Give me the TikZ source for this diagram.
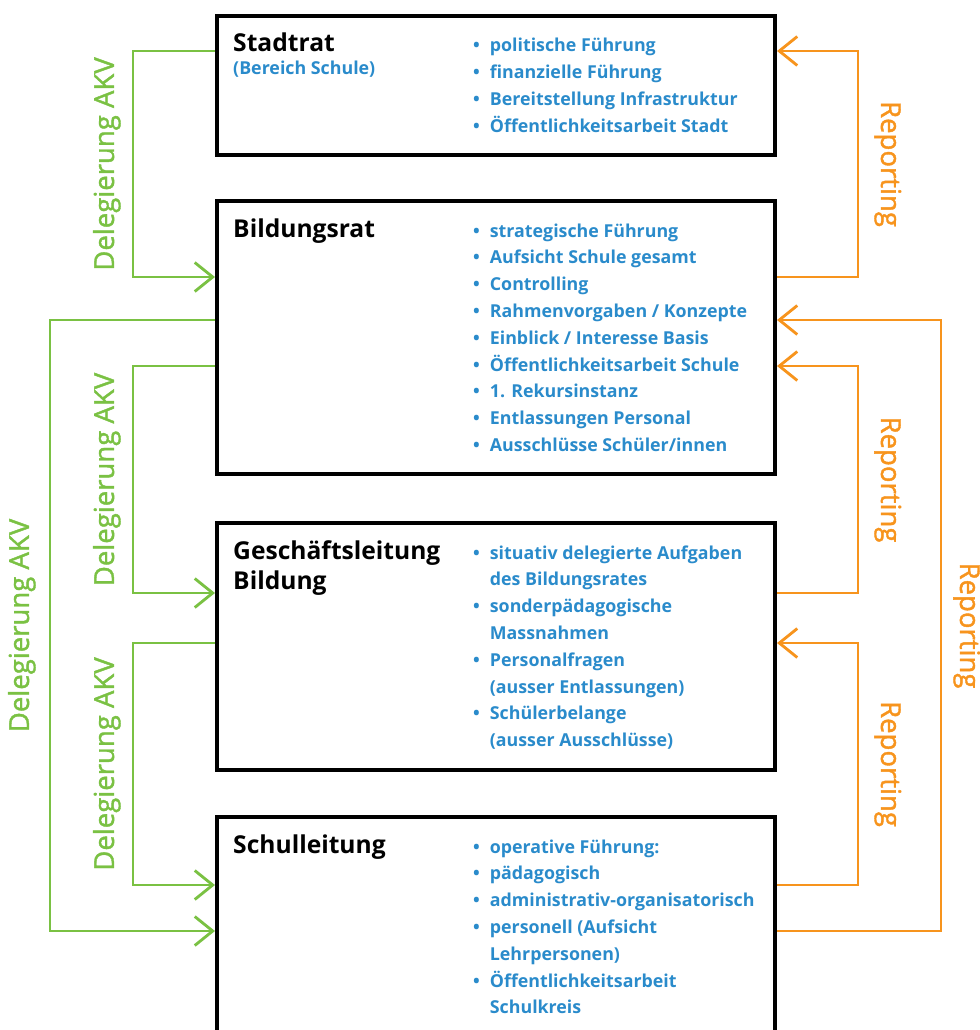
\documentclass[tikz,border=0pt]{standalone}
\usepackage{fontspec}
\setmainfont{Open Sans}
\newfontfamily\lblfont{Open Sans}[FakeBold=1.4]
\usetikzlibrary{arrows.meta, positioning, calc}
\definecolor{cgreen}{HTML}{7AC143}
\definecolor{corange}{HTML}{F7941D}
\definecolor{cblue}{HTML}{2A8BCB}
\newcommand{\bl}{\makebox[5mm][l]{\textbullet}}
\newcommand{\ind}{\hspace*{5mm}}
\newcommand{\tlist}[1]{\begin{tabular}[t]{@{}l@{}}#1\end{tabular}}

\begin{document}
\begin{tikzpicture}[
  x=1mm, y=-1mm,
  box/.style={draw, line width=1.1mm, minimum width=167.5mm, inner sep=0pt,
              anchor=north west},
  title/.style={anchor=base west, inner sep=0pt,
                font=\fontsize{21}{26.4}\selectfont\bfseries},
  tasks/.style={anchor=base west, inner sep=0pt, text=cblue,
                font=\fontsize{15.2}{22.9}\selectfont\bfseries},
  deleg/.style={draw=cgreen, line width=0.85mm,
                -{Straight Barb[length=5.4mm, width=8.7mm]}},
  report/.style={deleg, draw=corange},
  dlabel/.style={rotate=90, anchor=south, inner sep=3.3mm, text=cgreen,
                 font=\lblfont\fontsize{23.5}{27}\selectfont},
  rlabel/.style={rotate=-90, anchor=south, inner sep=4.5mm, text=corange,
                 font=\lblfont\fontsize{23.5}{27}\selectfont},
  ]
\useasboundingbox (0,0) rectangle (294,309);
\clip (0,0) rectangle (294,309);
\node[box, minimum height=41.8mm] (stadtrat) at (64.5,4.2) {};
\node[box, minimum height=82mm, below=12.6mm of stadtrat] (bildungsrat) {};
\node[box, minimum height=74.2mm, below=13.5mm of bildungsrat] (gl) {};
\node[box, minimum height=80mm, below=12.9mm of gl] (schulleitung) {};

\node[title] (stadtrat-t) at ($(stadtrat.north west)+(5.4,11.4)$) {Stadtrat};
\node[tasks] (stadtrat-s) at ($(stadtrat.north west)+(5.4,18)$) {(Bereich Schule)};
\node[tasks] (stadtrat-l) at ($(stadtrat.north west)+(77.4,11.4)$) {\tlist{
  \bl politische Führung\\
  \bl finanzielle Führung\\
  \bl Bereitstellung Infrastruktur\\
  \bl Öffentlichkeitsarbeit Stadt
}};
\node[title] (bildungsrat-t) at ($(bildungsrat.north west)+(5.4,11.4)$) {Bildungsrat};
\node[tasks] (bildungsrat-l) at ($(bildungsrat.north west)+(77.4,11.4)$) {\tlist{
  \bl strategische Führung\\
  \bl Aufsicht Schule gesamt\\
  \bl Controlling\\
  \bl Rahmenvorgaben / Konzepte\\
  \bl Einblick / Interesse Basis\\
  \bl Öffentlichkeitsarbeit Schule\\
  \bl 1. Rekursinstanz\\
  \bl Entlassungen Personal\\
  \bl Ausschlüsse Schüler/innen
}};
\node[title] (gl-t) at ($(gl.north west)+(5.4,11.4)$) {\tlist{Geschäftsleitung\\Bildung}};
\node[tasks] (gl-l) at ($(gl.north west)+(77.4,11.4)$) {\tlist{
  \bl situativ delegierte Aufgaben\\
  \ind des Bildungsrates\\
  \bl sonderpädagogische\\
  \ind Massnahmen\\
  \bl Personalfragen\\
  \ind (ausser Entlassungen)\\
  \bl Schülerbelange\\
  \ind (ausser Ausschlüsse)
}};
\node[title] (schulleitung-t) at ($(schulleitung.north west)+(5.4,11.4)$) {Schulleitung};
\node[tasks] (schulleitung-l) at ($(schulleitung.north west)+(77.4,11.4)$) {\tlist{
  \bl operative Führung:\\
  \bl pädagogisch\\
  \bl administrativ-organisatorisch\\
  \bl personell (Aufsicht\\
  \ind Lehrpersonen)\\
  \bl Öffentlichkeitsarbeit\\
  \ind Schulkreis
}};

\draw[deleg] ($(stadtrat.north west)+(0,11.1)$) -- ++(-24.6,0)
  |- node[pos=0.25, dlabel] {Delegierung AKV} ($(bildungsrat.north west)+(0,23.4)$);
\draw[deleg] ($(bildungsrat.north west)+(0,36.3)$) -- ++(-49.5,0)
  |- node[pos=0.25, dlabel, inner sep=3.9mm] {Delegierung AKV} ($(schulleitung.north west)+(0,34.8)$);
\draw[deleg] ($(bildungsrat.north west)+(0,50.1)$) -- ++(-24.6,0)
  |- node[pos=0.25, dlabel] {Delegierung AKV} ($(gl.north west)+(0,21.6)$);
\draw[deleg] ($(gl.north west)+(0,36.6)$) -- ++(-24.6,0)
  |- node[pos=0.25, dlabel] {Delegierung AKV} ($(schulleitung.north west)+(0,21)$);

\draw[report] ($(bildungsrat.north east)+(0,23.4)$) -- ++(24.3,0)
  |- node[pos=0.25, rlabel] {Reporting} ($(stadtrat.north east)+(0,11.1)$);
\draw[report] ($(schulleitung.north east)+(0,34.8)$) -- ++(49.2,0)
  |- node[pos=0.25, rlabel, inner sep=3.3mm] {Reporting} ($(bildungsrat.north east)+(0,36.3)$);
\draw[report] ($(gl.north east)+(0,21.6)$) -- ++(24.3,0)
  |- node[pos=0.25, rlabel] {Reporting} ($(bildungsrat.north east)+(0,50.1)$);
\draw[report] ($(schulleitung.north east)+(0,21)$) -- ++(24.3,0)
  |- node[pos=0.25, rlabel] {Reporting} ($(gl.north east)+(0,36.6)$);
\end{tikzpicture}
\end{document}
